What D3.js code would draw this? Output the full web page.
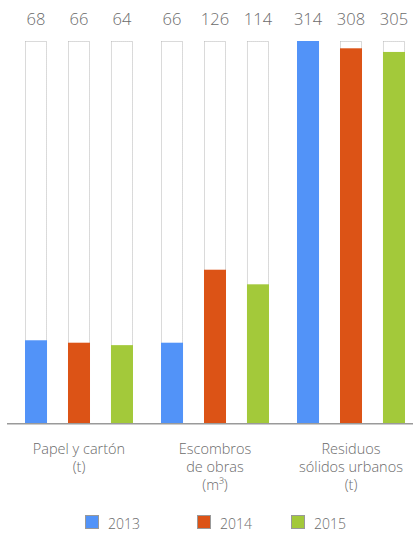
<!DOCTYPE html>
<html><head><meta charset="utf-8">
<script src="https://cdn.jsdelivr.net/npm/d3@7"></script>
<style>
html,body{margin:0;padding:0;background:#fff;}
svg{display:block;font-family:"Open Sans",sans-serif;}
</style></head>
<body><svg id="c" width="420" height="535"></svg>
<script>
const categories = [["Papel y cartón","(t)"],["Escombros","de obras","(m³)"],["Residuos","sólidos urbanos","(t)"]];
const years = ["2013","2014","2015"];
const values2013 = [68, 66, 314];
const values2014 = [66, 126, 308];
const values2015 = [64, 114, 305];
const colors = ["#5293f8","#dc5316","#a3c93a"];

const series = [values2013, values2014, values2015];
const svg = d3.select("#c");
const baseY = 423, topY = 41;
const maxV = d3.max(series.flat());
const y = d3.scaleLinear().domain([0, maxV]).range([baseY, topY]);
const x0 = d3.scaleBand().domain(d3.range(categories.length)).range([11, 419]).paddingInner(0).paddingOuter(0);
const x1 = d3.scaleBand().domain(years).range([0, x0.bandwidth()]).paddingInner(0.488).paddingOuter(0.326);

const g = svg.append("g");
categories.forEach((c, i) => {
  const gg = g.append("g").attr("transform", `translate(${x0(i)},0)`);
  years.forEach((yr, j) => {
    const v = series[j][i];
    const bx = x1(yr), bw = x1.bandwidth();
    gg.append("rect").attr("x", bx + 0.5).attr("y", y(maxV) + 0.5)
      .attr("width", bw - 1).attr("height", baseY - y(maxV) - 0.5)
      .attr("fill", "none").attr("stroke", "#b5b5b5").attr("stroke-width", 1)
      .attr("stroke-dasharray", "1,1");
    gg.append("rect").attr("x", bx).attr("y", y(v))
      .attr("width", bw).attr("height", baseY - y(v)).attr("fill", colors[j]);
    gg.append("text").attr("x", bx + bw / 2).attr("y", 25)
      .attr("text-anchor", "middle").attr("font-size", 16.5).attr("font-weight", 300)
      .attr("fill", "#6b6b6b").text(v);
  });
  const cx = (x1(years[0]) + x1(years[2]) + x1.bandwidth()) / 2;
  c.forEach((line, k) => {
    gg.append("text").attr("x", cx).attr("y", 454 + k * 18)
      .attr("text-anchor", "middle").attr("font-size", 14.5).attr("font-weight", 300)
      .attr("fill", "#6b6b6b").text(line);
  });
});

svg.append("line").attr("x1", 7).attr("x2", 413).attr("y1", baseY + 0.75).attr("y2", baseY + 0.75)
  .attr("stroke", "#9a9a9a").attr("stroke-width", 1.5);

const legendX = [85, 197, 291];
years.forEach((yr, j) => {
  svg.append("rect").attr("x", legendX[j] + 0.5).attr("y", 515.5).attr("width", 13).attr("height", 13)
    .attr("fill", colors[j]).attr("stroke", "#999").attr("stroke-width", 1);
  svg.append("text").attr("x", legendX[j] + 23).attr("y", 528.5).attr("font-size", 14).attr("font-weight", 300)
    .attr("fill", "#6b6b6b").text(yr);
});
</script></body></html>
